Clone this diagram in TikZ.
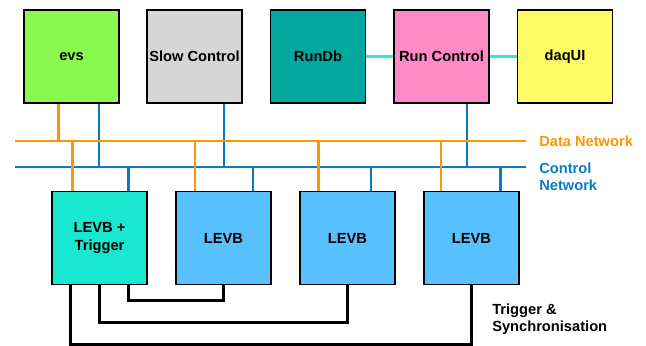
\documentclass[tikz,border=0pt]{standalone}
\usepackage{fontspec}
\setmainfont{Liberation Sans}
\definecolor{evsgreen}{HTML}{8AF84E}
\definecolor{slowgrey}{HTML}{D6D6D6}
\definecolor{rundbteal}{HTML}{00A89D}
\definecolor{rcpink}{HTML}{FF8AC6}
\definecolor{daqyellow}{HTML}{FFFB64}
\definecolor{trigcyan}{HTML}{17E8CF}
\definecolor{levbblue}{HTML}{56C1FE}
\definecolor{netorange}{HTML}{FF9500}
\definecolor{netblue}{HTML}{0B7BC1}
\definecolor{linkcyan}{HTML}{2EE8D0}
\begin{document}
\begin{tikzpicture}[x=0.75pt, y=-0.75pt,
    box/.style={draw, line width=1.1pt, minimum width=71pt, minimum height=70pt,
        inner sep=0pt, align=center, font=\fontsize{11}{13.5}\selectfont\bfseries},
    data/.style={netorange, line width=2.2pt},
    ctrl/.style={netblue, line width=2.2pt},
    link/.style={linkcyan, line width=2.2pt},
    sync/.style={black, line width=2.2pt},
    lbl/.style={anchor=west, align=left, inner sep=0pt, font=\fontsize{11}{13}\selectfont\bfseries}]
    \useasboundingbox (0,0) rectangle (646,346);

    % bus ends
    \coordinate (dn) at (15,141);
    \coordinate (dne) at (526,141);
    \coordinate (cn) at (15,167);
    \coordinate (cne) at (526,167);

    % top row
    \node[box, fill=evsgreen] at (71.5,56.5) (evs) {evs};
    \node[box, fill=slowgrey] at (194.5,56.5) (slow) {Slow Control};
    \node[box, fill=rundbteal] at (318,56.5) (rdb) {RunDb};
    \node[box, fill=rcpink] at (441.5,56.5) (rc) {Run Control};
    \node[box, fill=daqyellow] at (565,56.5) (daq) {daqUI};

    % bottom row
    \node[box, fill=trigcyan] at (99.5,238) (lt) {LEVB +\\Trigger};
    \node[box, fill=levbblue] at (223.5,238) (l2) {LEVB};
    \node[box, fill=levbblue] at (347.5,238) (l3) {LEVB};
    \node[box, fill=levbblue] at (471.5,238) (l4) {LEVB};

    \draw[link] (rdb) -- (rc);
    \draw[link] (rc) -- (daq);

    % control network
    \draw[ctrl] (cn) -- (cne);
    \draw[ctrl] ([xshift=20.6pt]evs.south) -- ([xshift=20.6pt]evs.south |- cn);
    \draw[ctrl] ([xshift=22.1pt]slow.south) -- ([xshift=22.1pt]slow.south |- cn);
    \draw[ctrl] ([xshift=19.1pt]rc.south) -- ([xshift=19.1pt]rc.south |- cn);
    \draw[ctrl] ([xshift=21.4pt]lt.north) -- ([xshift=21.4pt]lt.north |- cn);
    \draw[ctrl] ([xshift=22.1pt]l2.north) -- ([xshift=22.1pt]l2.north |- cn);
    \draw[ctrl] ([xshift=17.6pt]l3.north) -- ([xshift=17.6pt]l3.north |- cn);
    \draw[ctrl] ([xshift=21.4pt]l4.north) -- ([xshift=21.4pt]l4.north |- cn);

    % data network
    \draw[data] (dn) -- (dne);
    \draw[data] ([xshift=-10.1pt]evs.south) -- ([xshift=-10.1pt]evs.south |- dn);
    \draw[data] ([xshift=-20.6pt]lt.north) -- ([xshift=-20.6pt]lt.north |- dn);
    \draw[data] ([xshift=-21.4pt]l2.north) -- ([xshift=-21.4pt]l2.north |- dn);
    \draw[data] ([xshift=-22.1pt]l3.north) -- ([xshift=-22.1pt]l3.north |- dn);
    \draw[data] ([xshift=-22.9pt]l4.north) -- ([xshift=-22.9pt]l4.north |- dn);

    \node[lbl, text=netorange] at (539,141) (dlab) {Data Network};
    \node[lbl, text=netblue] at (539,177) (clab) {Control\\Network};

    % trigger & sync
    \draw[sync] ([xshift=21.4pt]lt.south) -- ++(0,15) -| (l2.south);
    \draw[sync] (lt.south) -- ++(0,37.5) -| (l3.south);
    \draw[sync] ([xshift=-22.1pt]lt.south) -- ++(0,59) -| (l4.south);
    \node[lbl] at (492,319) (slab) {Trigger \&\\Synchronisation};
\end{tikzpicture}
\end{document}
